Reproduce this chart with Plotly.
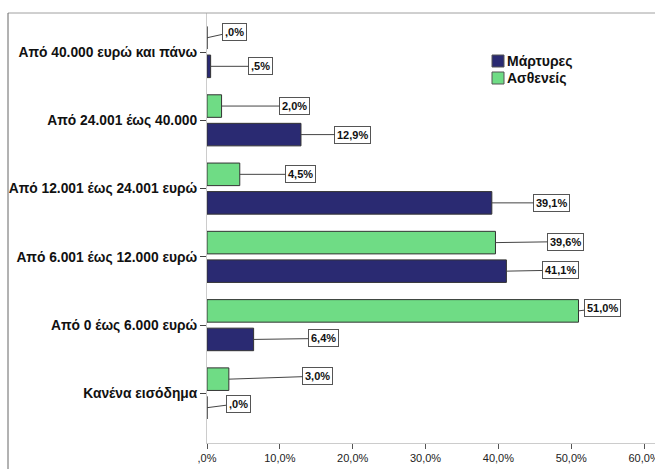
import plotly.graph_objects as go

# ---- data -------------------------------------------------------------
categories = [
    "Κανένα εισόδημα",
    "Από 0 έως 6.000 ευρώ",
    "Από 6.001 έως 12.000 ευρώ",
    "Από 12.001 έως 24.001 ευρώ",
    "Από 24.001 έως 40.000",
    "Από 40.000 ευρώ και πάνω",
]
series_names = ["Μάρτυρες", "Ασθενείς"]
martyres = [0.0, 6.4, 41.1, 39.1, 12.9, 0.5]
astheneis = [3.0, 51.0, 39.6, 4.5, 2.0, 0.0]
x_tick_values = [0, 10, 20, 30, 40, 50, 60]

# ---- style ------------------------------------------------------------
NAVY = "#2a2a72"
GREEN = "#6fdc85"
series_colors = [NAVY, GREEN]

W, H = 655, 469
M_L, M_R, M_T, M_B = 207, 0, 13, 26
PLOT_W = W - M_L - M_R
PLOT_H = H - M_T - M_B
X_MAX = 61.5
Y_RANGE = [-0.726, 5.572]
UNIT_PX = PLOT_H / (Y_RANGE[1] - Y_RANGE[0])

BARGAP = 0.164
BARGROUPGAP = 0.21
SLOT = (1 - BARGAP) / 2
BAR_SHIFT_PX = SLOT / 2 * UNIT_PX

# label box offsets (pixels) from each bar end, bottom category first
label_offsets = {
    "Μάρτυρες": [(31, -4), (70, -1), (54, -1), (60, 0), (52, 0), (50, 0)],
    "Ασθενείς": [(89, -3), (24, -3), (70, -1), (61, 0), (73, 0), (27, -6)],
}

FONT = "Liberation Sans, Arial, sans-serif"


def spss_pct(v):
    s = f"{v:.1f}".replace(".", ",")
    if s.startswith("0,"):
        s = s[1:]
    return s + "%"


def px_x(px):
    return (px - M_L) / PLOT_W


def px_y(py):
    return (H - M_B - py) / PLOT_H


fig = go.Figure()
all_values = [martyres, astheneis]
for name, vals, color in zip(series_names, all_values, series_colors):
    fig.add_trace(
        go.Bar(
            name=name,
            y=categories,
            x=vals,
            orientation="h",
            marker=dict(color=color, line=dict(color="#333333", width=1)),
            showlegend=False,
            hoverinfo="x+y+name",
        )
    )

# value labels with leader lines
annotations = []
for si, (name, vals) in enumerate(zip(series_names, all_values)):
    shift = -BAR_SHIFT_PX if si == 0 else BAR_SHIFT_PX
    for ci, (cat, v) in enumerate(zip(categories, vals)):
        ax, ay = label_offsets[name][ci]
        annotations.append(
            dict(
                x=v,
                y=cat,
                xref="x",
                yref="y",
                yshift=shift,
                text="<b>" + spss_pct(v) + "</b>",
                showarrow=True,
                arrowhead=0,
                arrowwidth=1,
                arrowcolor="#444444",
                ax=ax,
                ay=ay,
                font=dict(family=FONT, size=11, color="#111111"),
                bgcolor="white",
                bordercolor="#555555",
                borderwidth=1,
                borderpad=2,
            )
        )

# legend drawn as swatches + text
legend_rows = [61, 78]
for name, color, cy in zip(series_names, series_colors, legend_rows):
    fig.add_shape(
        type="rect",
        xref="paper",
        yref="paper",
        x0=px_x(492),
        x1=px_x(504),
        y0=px_y(cy + 6),
        y1=px_y(cy - 6),
        fillcolor=color,
        line=dict(color="#555555", width=1),
    )
    annotations.append(
        dict(
            x=px_x(505),
            y=px_y(cy),
            xref="paper",
            yref="paper",
            xanchor="left",
            yanchor="middle",
            text="<b>" + name + "</b>",
            showarrow=False,
            font=dict(family=FONT, size=14, color="#111111", weight="bold"),
        )
    )

# outer frame
fig.add_shape(type="line", xref="paper", yref="paper",
              x0=px_x(8), x1=px_x(W), y0=px_y(13), y1=px_y(13),
              line=dict(color="#a0a0a0", width=1))
fig.add_shape(type="line", xref="paper", yref="paper",
              x0=px_x(8), x1=px_x(8), y0=px_y(13), y1=px_y(H),
              line=dict(color="#666666", width=1))

fig.update_layout(
    width=W,
    height=H,
    margin=dict(l=M_L, r=M_R, t=M_T, b=M_B, pad=0, autoexpand=False),
    paper_bgcolor="white",
    plot_bgcolor="white",
    barmode="group",
    bargap=BARGAP,
    bargroupgap=BARGROUPGAP,
    annotations=annotations,
    font=dict(family=FONT, color="#111111"),
)
fig.update_xaxes(
    automargin=False,
    range=[0, X_MAX],
    tickvals=x_tick_values,
    ticktext=[spss_pct(v) for v in x_tick_values],
    ticklabeloverflow="allow",
    showgrid=False,
    zeroline=False,
    showline=True,
    linecolor="#cccccc",
    linewidth=1,
    ticks="outside",
    ticklen=5,
    tickcolor="#555555",
    tickfont=dict(family=FONT, size=11, color="#222222"),
    fixedrange=True,
)
fig.update_yaxes(
    automargin=False,
    type="category",
    categoryorder="array",
    categoryarray=categories,
    range=Y_RANGE,
    showgrid=False,
    zeroline=False,
    showline=True,
    linecolor="#cccccc",
    linewidth=1,
    ticks="outside",
    ticklen=6,
    tickcolor="#444444",
    tickfont=dict(family=FONT, size=13.8, color="#111111", weight="bold"),
    fixedrange=True,
)

fig.write_html("out.html")
